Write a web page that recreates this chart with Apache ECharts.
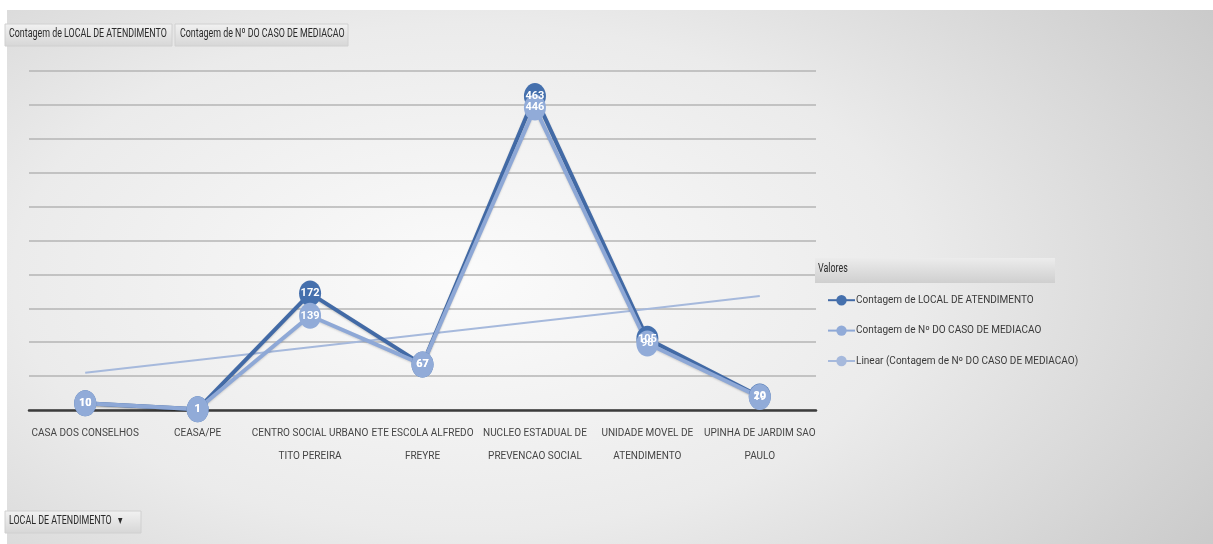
<!DOCTYPE html>
<html>
<head>
<meta charset="utf-8">
<script src="https://cdn.jsdelivr.net/npm/echarts@6/dist/echarts.min.js"></script>
<style>
  html, body { margin: 0; padding: 0; background: #fff; }
  .frame {
    position: absolute; left: 7px; top: 10px; width: 1206px; height: 534px;
    background: radial-gradient(ellipse 75% 95% at 38% 50%, #fbfbfb 0%, #ebebeb 50%, #c9c9c9 100%);
  }
  #chart { position: absolute; left: 0; top: 0; width: 1213px; height: 544px; }
</style>
</head>
<body>
<div class="frame"></div>
<div id="chart"></div>
<script>
const categories = [
  'CASA DOS CONSELHOS',
  'CEASA/PE',
  'CENTRO SOCIAL URBANO\nTITO PEREIRA',
  'ETE ESCOLA ALFREDO\nFREYRE',
  'NUCLEO ESTADUAL DE\nPREVENCAO SOCIAL',
  'UNIDADE MOVEL DE\nATENDIMENTO',
  'UPINHA DE JARDIM SAO\nPAULO'
];
const localCounts = [10, 1, 172, 67, 463, 105, 20];
const casoCounts = [10, 1, 139, 67, 446, 98, 19];

const nameLocal = 'Contagem de LOCAL DE ATENDIMENTO';
const nameCaso = 'Contagem de Nº DO CASO DE MEDIACAO';
const nameTrend = 'Linear (Contagem de Nº DO CASO DE MEDIACAO)';

// linear trend over the second series, like Excel's trendline
const n = casoCounts.length;
const xs = casoCounts.map((_, i) => i + 1);
const mx = xs.reduce((a, b) => a + b, 0) / n;
const my = casoCounts.reduce((a, b) => a + b, 0) / n;
let sxy = 0, sxx = 0;
xs.forEach((x, i) => { sxy += (x - mx) * (casoCounts[i] - my); sxx += (x - mx) * (x - mx); });
const slope = sxy / sxx;
const trend = xs.map(x => +(my + slope * (x - mx)).toFixed(2));

const font = "Roboto, 'Liberation Sans', sans-serif";

const chart = echarts.init(document.getElementById('chart'));

const btnFill = new echarts.graphic.LinearGradient(0, 0, 0, 1, [
  { offset: 0, color: '#f2f2f2' },
  { offset: 1, color: '#d6d6d6' }
]);

const labelStyle = {
  show: true, position: 'inside', color: '#fff', fontWeight: 'bold',
  fontSize: 11, fontFamily: font
};

// narrow text for the field buttons (Excel draws them condensed)
const narrowText = (x, y, text) => ({
  type: 'text', x: x, y: y, scaleX: 0.74, z: 11,
  style: { text: text, fill: '#2a2a2a', font: '12px ' + font }
});

const option = {
  textStyle: { fontFamily: font },
  animation: false,
  grid: { left: 29, right: 397, top: 71, bottom: 134 },
  xAxis: {
    type: 'category',
    data: categories,
    boundaryGap: true,
    axisLine: { lineStyle: { color: '#3c3c3c', width: 2.5 } },
    axisTick: { show: false },
    axisLabel: {
      interval: 0, color: '#454545', fontSize: 10, fontFamily: font,
      lineHeight: 23, margin: 12
    }
  },
  yAxis: {
    type: 'value',
    min: 0, max: 500, interval: 50,
    axisLabel: { show: false },
    axisLine: { show: false },
    axisTick: { show: false },
    splitLine: { lineStyle: { color: '#b4b4b4', width: 1.5 } }
  },
  legend: {
    orient: 'vertical',
    left: 822, top: 290,
    itemGap: 20,
    itemWidth: 27, itemHeight: 13,
    textStyle: { color: '#3a3a3a', fontSize: 10, fontFamily: font, padding: [0, 0, 0, -4] },
    data: [nameLocal, nameCaso, nameTrend]
  },
  series: [
    {
      name: nameTrend,
      type: 'line',
      data: trend,
      symbol: 'none',
      z: 1,
      lineStyle: { color: '#a6b9dc', width: 2 },
      itemStyle: { color: '#a6b9dc' }
    },
    {
      name: nameLocal,
      type: 'line',
      data: localCounts,
      symbol: 'circle',
      symbolSize: [22, 26],
      z: 2,
      lineStyle: { color: '#426aa6', width: 4, shadowColor: 'rgba(0,0,0,0.2)', shadowBlur: 2, shadowOffsetY: 1 },
      itemStyle: { color: '#4570ad' },
      label: labelStyle
    },
    {
      name: nameCaso,
      type: 'line',
      data: casoCounts,
      symbol: 'circle',
      symbolSize: [22, 26],
      z: 2,
      lineStyle: { color: '#8ea8d6', width: 4, shadowColor: 'rgba(0,0,0,0.15)', shadowBlur: 2, shadowOffsetY: 1 },
      itemStyle: { color: '#91abd8' },
      label: labelStyle
    }
  ],
  graphic: [
    {
      type: 'rect', x: 5, y: 24, z: 10,
      shape: { width: 167, height: 22 },
      style: { fill: btnFill, stroke: '#d0d0d0', lineWidth: 1 }
    },
    narrowText(9, 28, nameLocal),
    {
      type: 'rect', x: 175, y: 24, z: 10,
      shape: { width: 173, height: 22 },
      style: { fill: btnFill, stroke: '#d0d0d0', lineWidth: 1 }
    },
    narrowText(180, 28, nameCaso),
    {
      type: 'rect', x: 815, y: 258, z: 2,
      shape: { width: 240, height: 25 },
      style: {
        fill: new echarts.graphic.LinearGradient(0, 0, 0, 1, [
          { offset: 0, color: '#ececec' },
          { offset: 1, color: '#cfcfcf' }
        ])
      }
    },
    narrowText(818, 263, 'Valores'),
    {
      type: 'rect', x: 5, y: 511, z: 10,
      shape: { width: 136, height: 22 },
      style: { fill: btnFill, stroke: '#d0d0d0', lineWidth: 1 }
    },
    narrowText(9, 515, 'LOCAL DE ATENDIMENTO   ▾')
  ]
};

chart.setOption(option);
</script>
</body>
</html>
